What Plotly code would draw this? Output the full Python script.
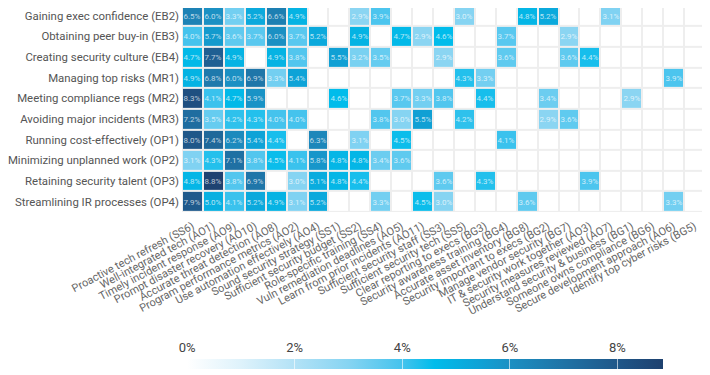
import plotly.graph_objects as go

N = None

rows = [
    "Building exec support (EB1)",
    "Gaining exec confidence (EB2)",
    "Obtaining peer buy-in (EB3)",
    "Creating security culture (EB4)",
    "Managing top risks (MR1)",
    "Meeting compliance regs (MR2)",
    "Avoiding major incidents (MR3)",
    "Running cost-effectively (OP1)",
    "Minimizing unplanned work (OP2)",
    "Retaining security talent (OP3)",
    "Streamlining IR processes (OP4)",
]

cols = [
    "Proactive tech refresh (SS6)",
    "Well-integrated tech (AO1)",
    "Timely incident response (AO9)",
    "Prompt disaster recovery (AO10)",
    "Accurate threat detection (AO8)",
    "Program performance metrics (AO2)",
    "Use automation effectively (AO4)",
    "Sound security strategy (SS1)",
    "Sufficient security budget (SS2)",
    "Role-specific training (SS4)",
    "Vuln remediation deadlines (AO5)",
    "Learn from prior incidents (AO11)",
    "Sufficient security staff (SS3)",
    "Sufficient security tech (SS5)",
    "Clear reporting to execs (BG3)",
    "Security awareness training (BG4)",
    "Accurate asset inventory (BG8)",
    "Security important to execs (BG2)",
    "Manage vendor security (BG7)",
    "IT & security work together (AO3)",
    "Security measures reviewed (AO7)",
    "Understand security & business (BG1)",
    "Someone owns compliance (BG6)",
    "Secure development approach (AO6)",
    "Identify top cyber risks (BG5)",
]

eb1 = [8.5, 6.2, 4.0, 4.5, N, 5.0, 4.7, N, N, 5.6, 3.5, 3.4, N, 3.2, N, N, N, N, N, N, N, N, N, N, N]
eb2 = [6.5, 6.0, 3.3, 5.2, 6.6, 4.9, N, N, 2.9, 3.9, N, N, N, 3.0, N, N, 4.8, 5.2, N, N, 3.1, N, N, N, N]
eb3 = [4.0, 5.7, 3.6, 3.7, 6.0, 3.7, 5.2, N, 4.9, N, 4.7, 2.9, 4.6, N, N, 3.7, N, N, 2.9, N, N, N, N, N, N]
eb4 = [4.7, 7.7, 4.9, N, 4.9, 3.8, N, 5.5, 3.2, 3.5, N, N, 2.9, N, N, 3.6, N, N, 3.6, 4.4, N, N, N, N, N]
mr1 = [4.9, 6.8, 6.0, 6.9, 3.3, 5.4, N, N, N, N, N, N, N, 4.3, 3.3, N, N, N, N, N, N, N, N, 3.9, N]
mr2 = [8.3, 4.1, 4.7, 5.9, N, N, N, 4.6, N, N, 3.7, 3.3, 3.8, N, 4.4, N, N, 3.4, N, N, N, 2.9, N, N, N]
mr3 = [7.2, 3.5, 4.2, 4.3, 4.0, 4.0, N, N, N, 3.8, 3.0, 5.5, N, 4.2, N, N, N, 2.9, 3.6, N, N, N, N, N, N]
op1 = [8.0, 7.4, 6.2, 5.4, 4.4, N, 6.3, N, 3.1, N, 4.5, N, N, N, N, 4.1, N, N, N, N, N, N, N, N, N]
op2 = [3.1, 4.3, 7.1, 3.8, 4.5, 4.1, 5.8, 4.8, 4.8, 3.4, 3.6, N, N, N, N, N, N, N, N, N, N, N, N, N, N]
op3 = [4.8, 8.8, 3.8, 6.9, N, 3.0, 5.1, 4.8, 4.4, N, N, N, 3.6, N, 4.3, N, N, N, N, 3.9, N, N, N, N, N]
op4 = [7.9, 5.0, 4.1, 5.2, 4.9, 3.1, 5.2, N, N, 3.3, N, 4.5, 3.0, N, N, N, 3.6, N, N, N, N, N, N, 3.3, N]

values = [eb1, eb2, eb3, eb4, mr1, mr2, mr3, op1, op2, op3, op4]

scale_ticks = [0, 2, 4, 6, 8]
scale_labels = ["0%", "2%", "4%", "6%", "8%"]
ZMAX = 8.85

stops = [
    (0.0, "#ffffff"),
    (1.0, "#def2fb"),
    (2.0, "#b3e2f6"),
    (3.0, "#86d4f2"),
    (4.0, "#45c3ed"),
    (4.6, "#00bceb"),
    (5.5, "#10a0d4"),
    (6.0, "#1b90c3"),
    (7.0, "#1f73a6"),
    (8.0, "#1f5789"),
    (8.85, "#1e416f"),
]
colorscale = [[v / ZMAX, c] for v, c in stops]

text = [["" if v is None else f"{v:.1f}%" for v in r] for r in values]
yidx = list(range(len(rows)))
xidx = list(range(len(cols)))
blank = [[0 for _ in cols] for _ in rows]

fig = go.Figure()
fig.add_trace(go.Heatmap(
    z=blank, x=xidx, y=yidx,
    colorscale=[[0, "#ffffff"], [1, "#ffffff"]],
    showscale=False, xgap=2, ygap=2, hoverinfo="skip",
))
fig.add_trace(go.Heatmap(
    z=values, x=xidx, y=yidx, text=text, texttemplate="%{text}",
    textfont=dict(family="Roboto", size=8, color="rgba(255,255,255,0.7)"),
    colorscale=colorscale, zmin=0, zmax=ZMAX,
    xgap=2, ygap=2,
    colorbar=dict(
        orientation="h",
        x=0.4648, xanchor="center", xref="paper",
        y=-0.7696, yanchor="bottom", yref="paper",
        lenmode="pixels", len=476,
        thickness=10, xpad=0, ypad=0,
        outlinewidth=0,
        tickvals=scale_ticks, ticktext=scale_labels,
        ticks="inside", ticklen=14, tickcolor="rgba(255,255,255,0.6)", tickwidth=1,
        ticklabelposition="inside", ticklabeloverflow="allow",
        tickfont=dict(family="Roboto", size=13, color="#444444"),
    ),
))

fig.update_layout(
    width=710, height=375,
    margin=dict(l=174, r=13, t=0, b=171, autoexpand=False),
    paper_bgcolor="white",
    plot_bgcolor="#eeeeee",
    showlegend=False,
    xaxis=dict(
        tickvals=xidx, ticktext=cols, tickangle=-28,
        tickfont=dict(family="Roboto", size=11, color="#666666"),
        showgrid=False, zeroline=False, showline=False,
        range=[-0.5, len(cols) - 0.5], automargin=False,
        ticklabelstandoff=5,
    ),
    yaxis=dict(
        tickvals=yidx[1:], ticktext=rows[1:],
        tickfont=dict(family="Roboto", size=11.4, color="#555555"),
        showgrid=False, zeroline=False, showline=False,
        range=[len(rows) - 0.5, 0.62], automargin=False,
        ticklabelstandoff=2, ticklabeloverflow="allow",
    ),
)

fig.write_html("out.html")
